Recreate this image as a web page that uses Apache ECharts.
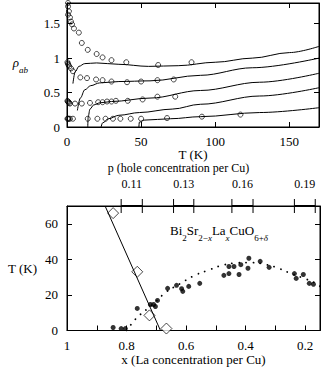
<!DOCTYPE html>
<html>
<head>
<meta charset="utf-8">
<script src="https://cdn.jsdelivr.net/npm/echarts@6/dist/echarts.min.js"></script>
<style>
  html, body { margin: 0; padding: 0; background: #fff; }
  #chart { width: 322px; height: 367px; }
</style>
</head>
<body>
<div id="chart"></div>
<script>
// --- top panel: rho_ab(T), fitted curves [T, rho] ---
const curveA = [[4, 0.63], [5.5, 0.8], [8, 0.88], [12, 0.92], [20, 0.93], [35, 0.91], [55, 0.88], [75, 0.89], [100, 0.94], [125, 1.0], [150, 1.08], [170, 1.17]]
const curveB = [[7, 0.24], [9, 0.42], [12, 0.54], [16, 0.6], [22, 0.64], [35, 0.66], [56, 0.67], [90, 0.75], [125, 0.86], [170, 1.0]]
const curveC = [[14, 0], [14.3, 0.15], [15.5, 0.26], [18, 0.32], [22, 0.35], [30, 0.37], [56, 0.42], [90, 0.53], [130, 0.65], [170, 0.78]]
const curveD = [[23, 0], [24, 0.06], [28, 0.12], [35, 0.17], [49, 0.21], [71, 0.26], [90, 0.33], [130, 0.45], [170, 0.57]]
const curveE = [[48.5, 0], [48.8, 0.07], [52, 0.1], [70, 0.12], [90, 0.15], [130, 0.21], [170, 0.28]]

// measured points [T, rho]
const pointsA = [[0.7, 1.8], [0.7, 1.75], [1.3, 1.68], [0.7, 1.63], [2, 1.59], [2.7, 1.53], [3.4, 1.49], [4.7, 1.43], [8, 1.37], [10, 1.22], [14, 1.12], [20, 1.06], [24, 1.01], [30, 0.97], [40, 0.94], [61.5, 0.9], [84, 0.94]]
const pointsB = [[0.3, 0.94], [0.6, 0.92], [1, 0.9], [1.5, 0.88], [2.7, 0.85], [4, 0.81], [9, 0.72], [13.5, 0.71], [19.6, 0.69], [24, 0.68], [30, 0.66], [40.5, 0.65], [50, 0.66], [61, 0.68], [72, 0.69]]
const pointsC = [[0.3, 0.38], [0.6, 0.37], [1, 0.36], [1.5, 0.35], [2, 0.34], [5.4, 0.34], [10, 0.34], [15.5, 0.35], [21, 0.36], [24, 0.36], [27, 0.37], [30, 0.37], [33, 0.38], [41, 0.38], [51, 0.4], [61, 0.44], [73, 0.44]]
const pointsE = [[0.3, 0.12], [0.7, 0.12], [1.2, 0.12], [2, 0.12], [4, 0.12], [14, 0.12], [20.5, 0.12], [26, 0.12], [31, 0.12], [36, 0.12], [43, 0.12], [50, 0.12], [67.5, 0.13], [91, 0.15], [117, 0.18]]

// --- bottom panel: T vs x (La content) ---
const diamonds = [[0.845, 66], [0.764, 33], [0.723, 8.5], [0.666, 1.1]]
const diamondFit = [[0.872, 70], [0.686, 0]]
const tcPoints = [[0.845, 1.7], [0.818, 1.1], [0.804, 1.1], [0.764, 12.4], [0.72, 14.6], [0.709, 14.6], [0.703, 13.5], [0.696, 16.9], [0.662, 23.7],
  [0.632, 25.4], [0.615, 23.5], [0.611, 22], [0.591, 24.8], [0.554, 26.5], [0.473, 31], [0.456, 32], [0.456, 36], [0.439, 36], [0.422, 31.5],
  [0.416, 37], [0.392, 35], [0.389, 40.6], [0.351, 38.9], [0.321, 35.5], [0.236, 32], [0.23, 29.3], [0.206, 31.5], [0.186, 26.5], [0.172, 26]]
const tcDome = [[0.8, 0], [0.774, 5.6], [0.757, 8.5], [0.733, 11.8], [0.7, 16.5], [0.669, 21.4], [0.62, 26.3], [0.571, 31], [0.527, 33.8],
  [0.48, 36.6], [0.43, 38], [0.38, 38.2], [0.33, 37], [0.297, 35.5], [0.257, 32.7], [0.21, 29.7], [0.169, 27], [0.145, 24.2]]

// hole concentration p: x ranges on the top axis
const pLabels = ['0.11', '0.13', '0.16', '0.19']
const pRanges = [[0.818, 0.747], [0.642, 0.574], [0.446, 0.375], [0.236, 0.166]]

const xTicks = [0.2, 0.3, 0.4, 0.5, 0.6, 0.7, 0.8, 0.9]
const xLabels = [1, 0.8, 0.6, 0.4, 0.2]

const FONT = "'Liberation Serif', 'DejaVu Serif', serif"
const pMid = pRanges.map((r) => (r[0] + r[1]) / 2)

const chart = echarts.init(document.getElementById('chart'), null, { renderer: 'svg' })

const line = { color: '#000', width: 1 }
const tick = { show: true, inside: true, length: 5, lineStyle: { color: '#000' } }
const axLine = { show: true, onZero: false, lineStyle: { color: '#000', width: 1 } }
const label = { color: '#000', fontFamily: FONT, fontSize: 13 }
const nameStyle = { color: '#000', fontFamily: FONT, fontSize: 13, lineHeight: 12 }
const rich = {
  n: { color: '#000', fontFamily: FONT, fontSize: 13, fontWeight: 'normal', lineHeight: 18, verticalAlign: 'top' },
  i: { color: '#000', fontFamily: FONT, fontSize: 13, fontWeight: 'normal', fontStyle: 'italic', lineHeight: 18, verticalAlign: 'top' },
  s: { color: '#000', fontFamily: FONT, fontSize: 9, fontWeight: 'normal', lineHeight: 10, verticalAlign: 'bottom' },
  si: { color: '#000', fontFamily: FONT, fontSize: 9, fontWeight: 'normal', fontStyle: 'italic', lineHeight: 10, verticalAlign: 'bottom' },
}

const curveSeries = [curveA, curveB, curveC, curveD, curveE].map((d) => ({
  type: 'line', xAxisIndex: 0, yAxisIndex: 0, data: d, showSymbol: false,
  smooth: 0.35, smoothMonotone: 'x', lineStyle: line, silent: true,
}))
const pointSeries = [pointsA, pointsB, pointsC, pointsE].map((d) => ({
  type: 'scatter', xAxisIndex: 0, yAxisIndex: 0, data: d, symbol: 'circle', symbolSize: 5,
  itemStyle: { color: 'rgba(0,0,0,0)', borderColor: '#000', borderWidth: 0.9 },
}))

const option = {
  animation: false,
  backgroundColor: '#fff',
  title: {
    left: 170, top: 224, padding: 0,
    text: '{n|Bi}{s|2}{n|Sr}{s|2−}{si|x}{n|La}{si|x}{n|CuO}{s|6+}{si|δ}',
    textStyle: { fontWeight: 'normal', fontSize: 13, fontFamily: FONT, lineHeight: 18, rich },
  },
  grid: [
    { left: 67, right: 3, top: 3, bottom: 240, show: true, borderColor: '#000', borderWidth: 1 },
    { left: 67, right: 2, top: 206, bottom: 36, show: true, borderColor: '#000', borderWidth: 1 },
  ],
  xAxis: [
    {
      gridIndex: 0, type: 'value', min: 0, max: 170, interval: 50,
      axisLine: axLine, axisTick: tick, splitLine: { show: false },
      axisLabel: { ...label, margin: 8, showMaxLabel: false },
      name: 'T (K)', nameLocation: 'middle', nameGap: 21, nameMoveOverlap: false, nameTextStyle: nameStyle,
    },
    {
      gridIndex: 0, type: 'value', position: 'top', min: 0, max: 170, interval: 50,
      axisLine: axLine, axisTick: tick, splitLine: { show: false }, axisLabel: { show: false },
    },
    {
      gridIndex: 1, type: 'value', min: 0.15, max: 1, inverse: true,
      axisLine: axLine, splitLine: { show: false },
      axisTick: { ...tick, customValues: xTicks },
      axisLabel: { ...label, margin: 8, customValues: xLabels },
      name: 'x (La concentration per Cu)', nameLocation: 'middle', nameGap: 23, nameMoveOverlap: false, nameTextStyle: nameStyle,
    },
    {
      gridIndex: 1, type: 'value', position: 'top', min: 0.15, max: 1, inverse: true,
      axisLine: axLine, splitLine: { show: false }, axisTick: { show: false },
      axisLabel: {
        ...label, fontSize: 12, lineHeight: 12, margin: 16, customValues: pMid,
        formatter: (v) => {
          let best = 0
          pMid.forEach((m, i) => { if (Math.abs(m - v) < Math.abs(pMid[best] - v)) best = i })
          return pLabels[best]
        },
      },
      name: 'p (hole concentration per Cu)', nameLocation: 'middle', nameGap: 32, nameMoveOverlap: false,
      nameTextStyle: { ...nameStyle, fontSize: 12, padding: [0, 30, 0, 0] },
    },
  ],
  yAxis: [
    {
      gridIndex: 0, type: 'value', min: 0, max: 1.8, interval: 0.5,
      axisLine: axLine, axisTick: tick, splitLine: { show: false },
      axisLabel: { ...label, margin: 7, showMaxLabel: false },
      name: '{i|ρ}{si|ab}', nameLocation: 'middle', nameRotate: 0, nameGap: 39,
      nameTextStyle: { fontWeight: 'normal', rich },
    },
    {
      gridIndex: 0, type: 'value', position: 'right', min: 0, max: 1.8, interval: 0.5,
      axisLine: axLine, axisTick: tick, splitLine: { show: false }, axisLabel: { show: false },
    },
    {
      gridIndex: 1, type: 'value', min: 0, max: 70, interval: 20,
      axisLine: axLine, axisTick: tick, splitLine: { show: false },
      axisLabel: { ...label, margin: 9, showMaxLabel: false },
      name: 'T (K)', nameLocation: 'middle', nameRotate: 0, nameGap: 30, nameTextStyle: nameStyle,
    },
    {
      gridIndex: 1, type: 'value', position: 'right', min: 0, max: 70, interval: 20,
      axisLine: axLine, axisTick: tick, splitLine: { show: false }, axisLabel: { show: false },
    },
  ],
  series: [
    ...curveSeries,
    ...pointSeries,
    {
      type: 'line', xAxisIndex: 2, yAxisIndex: 2, data: diamondFit, showSymbol: false,
      lineStyle: line, silent: true,
    },
    {
      type: 'line', xAxisIndex: 2, yAxisIndex: 2, data: tcDome, showSymbol: false,
      smooth: 0.4, lineStyle: { color: '#000', width: 1.8, type: [0.1, 7], cap: 'round' }, silent: true,
    },
    {
      type: 'scatter', xAxisIndex: 2, yAxisIndex: 2, data: tcPoints, symbol: 'circle', symbolSize: 5,
      itemStyle: { color: '#000' },
    },
    {
      type: 'scatter', xAxisIndex: 2, yAxisIndex: 2, data: diamonds, symbol: 'diamond', symbolSize: 11,
      itemStyle: { color: '#fff', borderColor: '#000', borderWidth: 0.9 },
    },
    {
      type: 'custom', xAxisIndex: 3, yAxisIndex: 2, data: pRanges, clip: false, silent: true, z: 10,
      renderItem: (params, api) => {
        const a = api.coord([api.value(0), 70])
        const b = api.coord([api.value(1), 70])
        return {
          type: 'group',
          children: [
            { type: 'line', shape: { x1: a[0], y1: a[1], x2: b[0], y2: b[1] }, style: { stroke: '#000', lineWidth: 2 } },
            { type: 'line', shape: { x1: a[0], y1: a[1] - 7, x2: a[0], y2: a[1] + 7 }, style: { stroke: '#000', lineWidth: 1 } },
            { type: 'line', shape: { x1: b[0], y1: b[1] - 7, x2: b[0], y2: b[1] + 7 }, style: { stroke: '#000', lineWidth: 1 } },
          ],
        }
      },
    },
  ],
}

chart.setOption(option)
</script>
</body>
</html>
